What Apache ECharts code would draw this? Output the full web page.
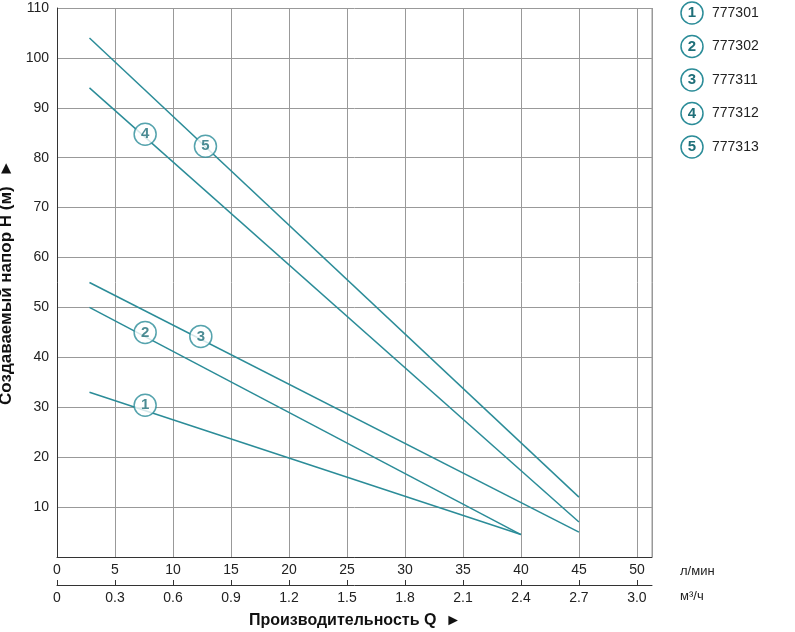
<!DOCTYPE html>
<html><head><meta charset="utf-8">
<script src="https://cdn.jsdelivr.net/npm/echarts@6/dist/echarts.min.js"></script>
<style>html,body{margin:0;padding:0;background:#fff}#c{width:795px;height:632px}</style>
</head><body><div id="c"></div>
<script>
const seriesNames = ['1','2','3','4','5'];
const models = ['777301','777302','777311','777312','777313'];
const line1 = [[2.8,33],[40,4.5]];
const line2 = [[2.8,50],[40,4.5]];
const line3 = [[2.8,55],[45,5]];
const line4 = [[2.8,94],[45,7]];
const line5 = [[2.8,104],[45,12]];
const markerPos = [[7.6,30.4],[7.6,45],[12.4,44.2],[7.6,84.7],[12.8,82.3]];
const C = '#2b8c98';
const lines = [line1,line2,line3,line4,line5];
const chart = echarts.init(document.getElementById('c'));
const series = lines.map((d,i)=>({type:'line',data:d,symbol:'none',lineStyle:{color:C,width:1.5},silent:true}));
series.push({type:'scatter',data:markerPos.map((p,i)=>({value:p,label:{formatter:seriesNames[i]}})),
  symbol:'circle',symbolSize:22,itemStyle:{color:'#fff',borderColor:C,borderWidth:1.5},
  label:{show:true,position:'inside',color:'#1f6f79',fontSize:15,fontWeight:'bold',fontFamily:'Liberation Sans'},z:5});
const graphics = [];
models.forEach((m,i)=>{
  const y = 13 + i*33.5;
  graphics.push({type:'circle',shape:{cx:692,cy:y,r:11},style:{fill:'#fff',stroke:C,lineWidth:1.5}});
  graphics.push({type:'text',x:692,y:y,style:{text:seriesNames[i],fill:'#1f6f79',font:'bold 15px Liberation Sans',textAlign:'center',textVerticalAlign:'middle'}});
  graphics.push({type:'text',x:712,y:y,style:{text:m,fill:'#222',font:'14px Liberation Sans',textVerticalAlign:'middle'}});
});
graphics.push({type:'text',x:680,y:565,style:{text:'л/мин',fill:'#222',font:'13px Liberation Sans'}});
graphics.push({type:'text',x:680,y:590,style:{text:'м³/ч',fill:'#222',font:'13px Liberation Sans'}});
graphics.push({type:'text',x:355,y:613,style:{text:'Производительность Q  ►',fill:'#111',font:'bold 16px Liberation Sans',textAlign:'center'}});
graphics.push({type:'line',shape:{x1:652,y1:8,x2:652,y2:557},style:{stroke:'#999'}});
chart.setOption({
  animation:false,
  grid:{left:57,right:143,top:8,bottom:75,containLabel:false,outerBoundsMode:'none'},
  xAxis:[
    {type:'value',min:0,max:51.3,interval:5,position:'bottom',
     axisLine:{lineStyle:{color:'#333'}},axisTick:{show:false},
     axisLabel:{color:'#222',fontSize:14,fontFamily:'Liberation Sans',showMaxLabel:false,margin:6},
     splitLine:{lineStyle:{color:'#999'}}},
    {type:'value',min:0,max:3.078,interval:0.3,position:'bottom',offset:28,
     axisLine:{show:true,lineStyle:{color:'#333'}},axisTick:{show:true,length:5,inside:true,lineStyle:{color:'#333'}},
     axisLabel:{color:'#222',fontSize:14,fontFamily:'Liberation Sans',showMaxLabel:false,margin:6,
       formatter:v=>v===0?'0':v.toFixed(1)},splitLine:{show:false}}
  ],
  yAxis:{type:'value',min:0,max:110,interval:10,
    axisLine:{show:true,lineStyle:{color:'#333'}},axisTick:{show:false},
    axisLabel:{color:'#222',fontSize:14,fontFamily:'Liberation Sans',showMinLabel:false,margin:8},
    splitLine:{lineStyle:{color:'#999'}},
    name:'Создаваемый напор H (м)  ►',nameLocation:'middle',nameGap:38,nameRotate:90,
    nameTextStyle:{color:'#111',fontSize:17,fontWeight:'bold',fontFamily:'Liberation Sans'}},
  graphic:graphics,
  series:series
});
</script></body></html>
